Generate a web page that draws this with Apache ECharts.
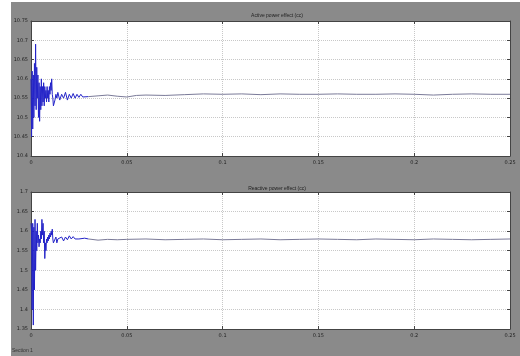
<!DOCTYPE html>
<html><head><meta charset="utf-8">
<script src="https://cdn.jsdelivr.net/npm/echarts@6/dist/echarts.min.js"></script>
<style>html,body{margin:0;padding:0;background:#fff}#c{width:520px;height:356px}</style>
</head><body><div id="c"></div>
<script>
const xTicks = [0, 0.05, 0.1, 0.15, 0.2, 0.25];
const topTitle = 'Active power effect (cc)';
const botTitle = 'Reactive power effect (cc)';
const footer = 'Section 1';

const activeT = [0,0.0003,0.0006,0.0009,0.0012,0.0015,0.0018,0.0021,0.0024,0.0027,0.003,0.0033,0.0036,0.0039,0.0042,0.0045,0.0048,0.0051,0.0054,0.0057,0.006,0.0063,0.0066,0.0069,0.0072,0.0075,0.0078,0.0081,0.0084,0.0087,0.009,0.0093,0.0096,0.0099,0.0102,0.0105,0.0108,0.0111,0.0114,0.0117,0.012,0.0125,0.013,0.0135,0.014,0.015,0.016,0.017,0.018,0.019,0.02,0.021,0.022,0.023,0.024,0.025,0.026,0.027,0.028,0.03,0.035,0.04,0.045,0.05,0.055,0.06,0.07,0.08,0.09,0.1,0.11,0.12,0.13,0.14,0.15,0.16,0.17,0.18,0.19,0.2,0.21,0.22,0.23,0.24,0.25];
const activeV = [10.60,10.45,10.62,10.47,10.61,10.50,10.64,10.53,10.69,10.52,10.63,10.55,10.61,10.50,10.59,10.49,10.58,10.52,10.60,10.53,10.58,10.54,10.59,10.53,10.58,10.55,10.57,10.54,10.58,10.55,10.57,10.54,10.58,10.56,10.59,10.57,10.60,10.56,10.55,10.53,10.535,10.545,10.56,10.55,10.565,10.545,10.56,10.55,10.565,10.545,10.56,10.55,10.562,10.55,10.56,10.552,10.56,10.553,10.558,10.554,10.556,10.558,10.555,10.553,10.557,10.558,10.557,10.559,10.561,10.56,10.561,10.559,10.561,10.56,10.56,10.561,10.56,10.56,10.561,10.56,10.558,10.56,10.561,10.56,10.56];

const reactiveT = [0,0.0003,0.0006,0.0009,0.0012,0.0015,0.0018,0.0021,0.0024,0.0027,0.003,0.0033,0.0036,0.0039,0.0042,0.0045,0.0048,0.0051,0.0054,0.0057,0.006,0.0063,0.0066,0.0069,0.0072,0.0075,0.0078,0.0081,0.0084,0.0087,0.009,0.0093,0.0096,0.0099,0.0102,0.0105,0.0108,0.0111,0.0114,0.0117,0.012,0.0125,0.013,0.0135,0.014,0.015,0.016,0.017,0.018,0.019,0.02,0.021,0.022,0.023,0.024,0.025,0.026,0.028,0.03,0.035,0.04,0.045,0.05,0.06,0.07,0.08,0.09,0.1,0.11,0.12,0.13,0.14,0.15,0.16,0.17,0.18,0.19,0.2,0.21,0.22,0.23,0.24,0.25];
const reactiveV = [1.62,1.60,1.40,1.62,1.36,1.61,1.45,1.63,1.50,1.60,1.55,1.62,1.57,1.59,1.56,1.58,1.57,1.60,1.58,1.63,1.59,1.62,1.57,1.60,1.53,1.57,1.55,1.58,1.57,1.585,1.575,1.59,1.58,1.595,1.585,1.60,1.59,1.605,1.58,1.57,1.565,1.575,1.585,1.57,1.58,1.575,1.585,1.575,1.585,1.578,1.588,1.58,1.586,1.58,1.585,1.58,1.585,1.582,1.58,1.577,1.579,1.578,1.579,1.58,1.578,1.579,1.58,1.578,1.579,1.58,1.578,1.579,1.58,1.579,1.578,1.58,1.579,1.578,1.58,1.579,1.578,1.579,1.58];

const SPLIT_T = 0.03;
const pair = (t, v) => t.map((x, i) => [x, v[i]]);
const early = (t, v) => pair(t, v).filter(p => p[0] <= SPLIT_T);
const late = (t, v) => pair(t, v).filter(p => p[0] >= SPLIT_T);

const chart = echarts.init(document.getElementById('c'));
const lbl = {fontSize: 5, color: '#222', fontFamily: 'DejaVu Sans'};
const gridLine = {show: true, lineStyle: {color: '#c8c8c8', type: 'dotted', width: 1}};
const fmt = v => String(+v.toFixed(2));
function xa(gi) {
  return [{type: 'value', gridIndex: gi, min: 0, max: 0.25, interval: 0.05,
    axisLine: {show: true, onZero: false, lineStyle: {color: '#444', width: 1}},
    axisTick: {show: true, inside: true, length: 3, lineStyle: {color: '#444'}},
    axisLabel: Object.assign({margin: 4, formatter: fmt}, lbl),
    splitLine: gridLine},
   {type: 'value', gridIndex: gi, position: 'top', min: 0, max: 0.25, interval: 0.05,
    axisLine: {show: true, onZero: false, lineStyle: {color: '#444', width: 1}},
    axisTick: {show: true, inside: true, length: 3, lineStyle: {color: '#444'}},
    axisLabel: {show: false}, splitLine: {show: false}}];
}
function ya(gi, min, max) {
  return [{type: 'value', gridIndex: gi, min: min, max: max, interval: 0.05,
    axisLine: {show: true, onZero: false, lineStyle: {color: '#444', width: 1}},
    axisTick: {show: true, inside: true, length: 3, lineStyle: {color: '#444'}},
    axisLabel: Object.assign({margin: 3, formatter: fmt}, lbl),
    splitLine: gridLine},
   {type: 'value', gridIndex: gi, position: 'right', min: min, max: max, interval: 0.05,
    axisLine: {show: true, onZero: false, lineStyle: {color: '#444', width: 1}},
    axisTick: {show: true, inside: true, length: 3, lineStyle: {color: '#444'}},
    axisLabel: {show: false}, splitLine: {show: false}}];
}
const lineS = (xi, yi, data, color) => ({type: 'line', xAxisIndex: xi, yAxisIndex: yi, data: data,
  showSymbol: false, symbol: 'none', lineStyle: {width: 1, color: color}, itemStyle: {color: color}});
const BLUE = '#2323c8', GREYBLUE = '#7a7a98';
chart.setOption({
  backgroundColor: '#fff',
  animation: false,
  graphic: [{type: 'rect', z: -10, shape: {x: 11, y: 2, width: 509, height: 354}, style: {fill: '#8a8a8a'}},
            {type: 'text', left: 12, top: 348, style: {text: footer, fontSize: 5, fill: '#333'}}],
  title: [
    {text: topTitle, left: 272, top: 8, textAlign: 'center', textStyle: {fontSize: 5, fontWeight: 'normal', color: '#222'}},
    {text: botTitle, left: 272, top: 181, textAlign: 'center', textStyle: {fontSize: 5, fontWeight: 'normal', color: '#222'}}
  ],
  grid: [
    {left: 31, top: 21, width: 479, height: 135, show: true, backgroundColor: '#fff', borderWidth: 0},
    {left: 31, top: 192, width: 479, height: 137, show: true, backgroundColor: '#fff', borderWidth: 0}
  ],
  xAxis: [].concat(xa(0), xa(1)),
  yAxis: [].concat(ya(0, 10.4, 10.75), ya(1, 1.35, 1.7)),
  series: [
    lineS(0, 0, early(activeT, activeV), BLUE),
    lineS(0, 0, late(activeT, activeV), GREYBLUE),
    lineS(2, 2, early(reactiveT, reactiveV), BLUE),
    lineS(2, 2, late(reactiveT, reactiveV), GREYBLUE)
  ]
});
</script></body></html>
